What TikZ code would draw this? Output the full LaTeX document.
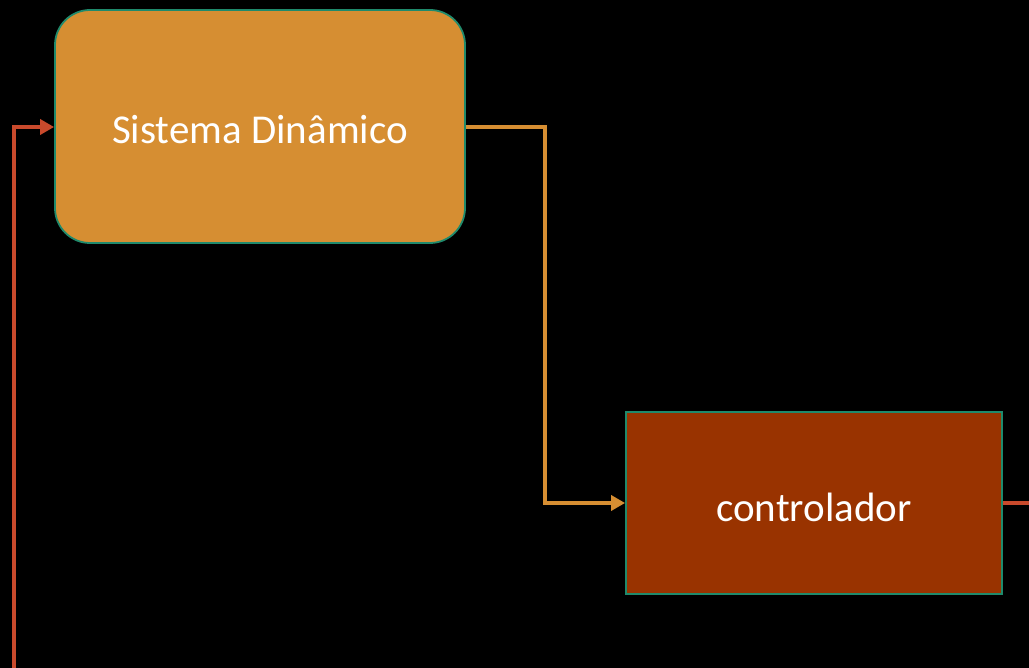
\documentclass[tikz,border=0pt]{standalone}
\usepackage{fontspec}
\setmainfont{Carlito}
\usetikzlibrary{arrows.meta}
\definecolor{boxorange}{HTML}{D68E32}
\definecolor{boxred}{HTML}{993300}
\definecolor{edgeteal}{HTML}{1F8A6C}
\definecolor{linered}{HTML}{C94A2C}
\tikzset{
  blk/.style={draw=edgeteal, line width=1.8pt, inner sep=0pt},
  lbl/.style={text=white, font=\fontsize{41}{48}\selectfont},
  conn/.style={line width=4pt, -{Triangle[length=14pt,width=15pt]}},
}
\begin{document}
\begin{tikzpicture}[x=1pt,y=-1pt]
\fill[black] (0,0) rectangle (1029,668);
\useasboundingbox (0,0) rectangle (1029,668);
\clip (0,0) rectangle (1029,668);
\node[blk, fill=boxorange, rounded corners=35pt, minimum width=410pt, minimum height=233pt] (sys) at (260,126.5) {};
\node[lbl] (syst) at (260,130) {Sistema Dinâmico};
\node[blk, fill=boxred, minimum width=376pt, minimum height=182pt] (ctl) at (814,503) {};
\node[lbl] (ctlt) at (814,507) {controlador};
\coordinate (off) at (1040,503);
\coordinate (bot) at (14,690);
\draw[conn, draw=boxorange] (sys.east |- 0,127) -- (545,127) |- (ctl.west);
\draw[line width=4.5pt, draw=linered] (ctl.east) -- (off);
\draw[conn, line width=4.5pt, draw=linered] (bot) |- (sys.west |- 0,127);
\end{tikzpicture}
\end{document}
